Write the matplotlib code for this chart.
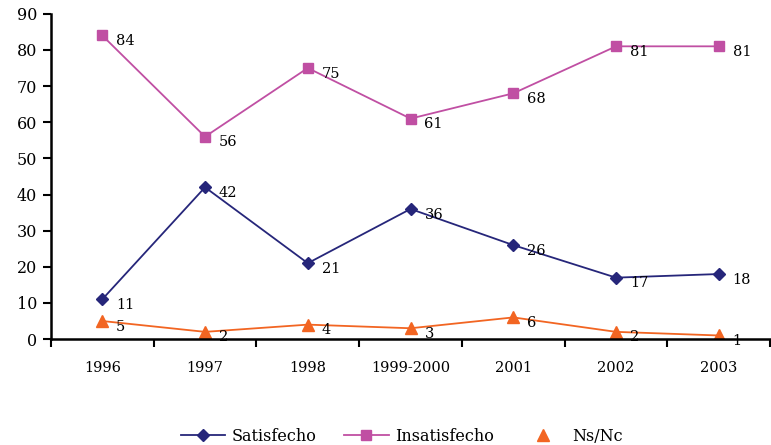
import matplotlib
matplotlib.use("Agg")
import matplotlib.pyplot as plt
from matplotlib.lines import Line2D
import numpy as np

# datos
anios = ['1996', '1997', '1998', '1999-2000', '2001', '2002', '2003']
satisfecho = [11, 42, 21, 36, 26, 17, 18]
insatisfecho = [84, 56, 75, 61, 68, 81, 81]
nsnc = [5, 2, 4, 3, 6, 2, 1]

plt.rcParams['font.family'] = ['DejaVu Serif']

c_sat = '#26267a'
c_ins = '#c04fa3'
c_ns = '#f26522'

fig = plt.figure(figsize=(7.71, 4.45), dpi=100)
ax = fig.add_axes([0.066, 0.238, 0.933, 0.731])

x = np.arange(len(anios))
ax.plot(x, satisfecho, color=c_sat, lw=1.3, marker='D', ms=6.5)
ax.plot(x, insatisfecho, color=c_ins, lw=1.3, marker='s', ms=7.5)
ax.plot(x, nsnc, color=c_ns, lw=1.3, marker='^', ms=9)

for serie in (satisfecho, insatisfecho, nsnc):
    for xi, v in zip(x, serie):
        ax.annotate(str(v), (xi, v), xytext=(10, -4), textcoords='offset points',
                    ha='left', va='center', fontsize=10.5)

ax.set_xlim(-0.5, len(anios) - 0.5)
ax.set_ylim(0, 90)
ax.set_yticks(range(0, 91, 10))
ax.set_xticks(x)
ax.set_xticklabels(anios)
ax.set_xticks(np.arange(-0.5, len(anios), 1), minor=True)
ax.tick_params(axis='x', which='major', length=0, pad=16, labelsize=10.5)
ax.tick_params(axis='x', which='minor', length=6, width=1.5, direction='out')
ax.tick_params(axis='y', length=6, width=1.5, direction='out', labelsize=11.5, pad=4)
for s in ('top', 'right'):
    ax.spines[s].set_visible(False)
ax.spines['left'].set_linewidth(1.8)
ax.spines['bottom'].set_linewidth(1.8)

handles = [
    Line2D([], [], color=c_sat, lw=1.3, marker='D', ms=6.5),
    Line2D([], [], color=c_ins, lw=1.3, marker='s', ms=7.5),
    Line2D([], [], color=c_ns, lw=0, marker='^', ms=9),
]
fig.legend(handles, ['Satisfecho', 'Insatisfecho', 'Ns/Nc'], loc='center',
           bbox_to_anchor=(0.521, 0.02), ncol=3, frameon=False, fontsize=11.5,
           handlelength=2.8, handletextpad=0.4, columnspacing=1.7)

fig.savefig('out.png', dpi=100)
